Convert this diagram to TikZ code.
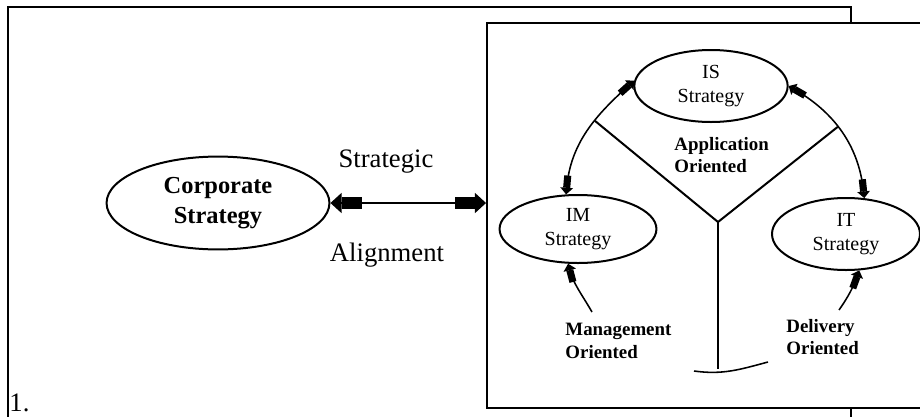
\documentclass[tikz,border=0pt]{standalone}
\usepackage{fontspec}
\setmainfont{Liberation Serif}
\usetikzlibrary{shapes.geometric,arrows.meta}

\begin{document}
\begin{tikzpicture}[x=0.45pt,y=-0.45pt,
    frame/.style={line width=0.9pt},
    strat/.style={ellipse,draw,line width=0.9pt,inner sep=0pt,align=center,font=\fontsize{9}{10.5}\selectfont},
    tag/.style={anchor=west,align=left,inner sep=0pt,font=\fontsize{8.5}{10}\selectfont\bfseries},
    word/.style={inner sep=0pt,font=\fontsize{12}{14}\selectfont},
    link/.style={line width=0.7pt},
    twoway/.style={link,{Triangle[length=3pt,width=5.6pt,sep=0pt]Rectangle[length=5.5pt,width=3.2pt,sep=0pt]}-{Rectangle[length=5.5pt,width=3.2pt,sep=0pt]Triangle[length=3pt,width=5.6pt,sep=0pt]}},
    oneway/.style={link,-{Rectangle[length=5.5pt,width=3.2pt,sep=0pt]Triangle[length=3pt,width=5.6pt,sep=0pt]}},
    bigway/.style={line width=0.6pt,{Triangle[length=5pt,width=9pt,sep=0pt]Rectangle[length=9pt,width=5.6pt,sep=0pt]}-{Rectangle[length=9pt,width=5.6pt,sep=0pt]Triangle[length=5pt,width=9pt,sep=0pt]}}]
  \useasboundingbox (0,0) rectangle (920,416);
  \clip (0,0) rectangle (920,416);
  % outer frame and the inner panel
  \draw[frame] (8,430) |- (851,7) -- (851,430);
  \node (panel) at (705.5,215.5) [draw,frame,fill=white,minimum width=196.6pt,minimum height=173.2pt,inner sep=0pt] {};

  \node (cs) at (218,203) [strat,minimum width=100.3pt,minimum height=41.8pt,font=\fontsize{11}{13.5}\selectfont\bfseries] {Corporate\\Strategy};
  \node (is) at (711,86) [strat,minimum width=69pt,minimum height=32.4pt] {IS\\Strategy};
  \node (im) at (578,229) [strat,minimum width=70.6pt,minimum height=30.6pt] {IM\\Strategy};
  \node (it) at (846,234) [strat,minimum width=66.6pt,minimum height=32.4pt] {IT\\Strategy};

  \node (strategic) at (386,162) [word] {Strategic};
  \node (alignment) at (387,255) [word] {Alignment};
  \node (app) at (674,155) [tag] {Application\\Oriented};
  \node (mgt) at (565,341) [tag] {Management\\Oriented};
  \node (dlv) at (786,337) [tag] {Delivery\\Oriented};
  \node (num) at (9,403) [word,anchor=west] {1.};

  \draw[bigway] (cs.east) -- (cs.east -| panel.west);
  \draw[twoway] (is.176) to[out=222,in=85] coordinate[pos=0.4] (yl) (im.109);
  \draw[twoway] (is.0) to[out=-30,in=96] coordinate[pos=0.45] (yr) (it.63);

  % the Y between the three strategies
  \coordinate (yj) at (718,222);
  \coordinate (yb) at (718,369);
  \draw[frame] (yl) -- (yj) -- (yr);
  \draw[frame] (yj) -- (yb);
  \coordinate (bl) at (694,371);
  \coordinate (br) at (768,362);
  \draw[link] (bl) to[out=-8,in=195] (br);

  \coordinate (mgfoot) at (592,312);
  \coordinate (dlfoot) at (839,310);
  \draw[oneway] (mgfoot) to[out=120,in=-75] (im.254);
  \draw[oneway] (dlfoot) to[out=55,in=-110] (it.290);
\end{tikzpicture}
\end{document}
